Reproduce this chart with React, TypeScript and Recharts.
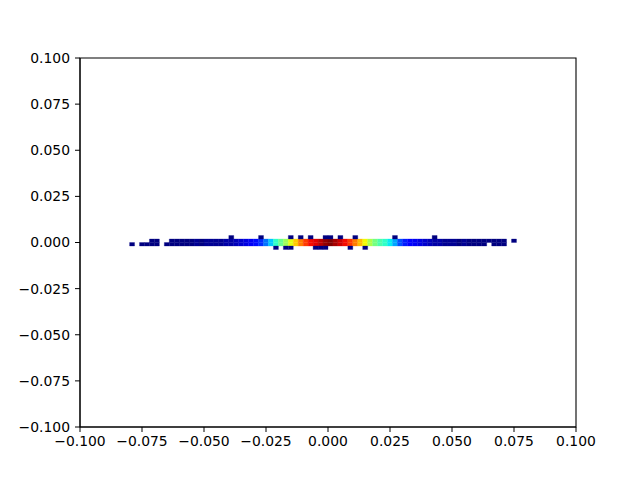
import React from 'react';
import { ComposedChart, XAxis, YAxis, ReferenceArea, Scatter } from 'recharts';

// 2D histogram bins: width in x, height in y (data units)
const BIN_W = 0.002;
const ROW_TOP: [number, number] = [0.0019, 0.0038];
const ROW_UP: [number, number] = [0, 0.0019];
const ROW_LOW: [number, number] = [-0.0019, 0];
const ROW_BOT: [number, number] = [-0.0038, -0.0019];

const COUNT_MIN = 1;
const COUNT_MAX = 60;

const xTicks = [-0.1, -0.075, -0.05, -0.025, 0, 0.025, 0.05, 0.075, 0.1];
const yTicks = [-0.1, -0.075, -0.05, -0.025, 0, 0.025, 0.05, 0.075, 0.1];

// main band: bin left edges
const mainBandX = [
  -0.064, -0.062, -0.06, -0.058, -0.056, -0.054, -0.052, -0.05, -0.048, -0.046,
  -0.044, -0.042, -0.04, -0.038, -0.036, -0.034, -0.032, -0.03, -0.028, -0.026,
  -0.024, -0.022, -0.02, -0.018, -0.016, -0.014, -0.012, -0.01, -0.008, -0.006,
  -0.004, -0.002, 0.0, 0.002, 0.004, 0.006, 0.008, 0.01, 0.012, 0.014,
  0.016, 0.018, 0.02, 0.022, 0.024, 0.026, 0.028, 0.03, 0.032, 0.034,
  0.036, 0.038, 0.04, 0.042, 0.044, 0.046, 0.048, 0.05, 0.052, 0.054,
  0.056, 0.058, 0.06, 0.062, 0.064, 0.066, 0.068, 0.07,
];
const mainUpperCounts = [
  1, 1, 1, 1, 1, 2, 1, 2, 2, 2,
  2, 3, 3, 4, 5, 6, 7, 9, 11, 15,
  20, 25, 29, 33, 38, 42, 47, 51, 54, 55,
  57, 59, 60, 58, 56, 54, 51, 47, 43, 39,
  34, 30, 27, 25, 22, 18, 13, 10, 8, 7,
  6, 5, 4, 3, 3, 2, 2, 2, 1, 2,
  1, 1, 1, 1, 1, 1, 1, 1,
];
const mainLowerCounts = [
  1, 1, 1, 1, 1, 2, 1, 2, 2, 2,
  2, 3, 3, 4, 5, 6, 7, 9, 11, 15,
  20, 25, 29, 33, 38, 42, 47, 51, 54, 55,
  57, 59, 60, 58, 56, 54, 51, 47, 43, 39,
  34, 30, 27, 25, 22, 18, 13, 10, 8, 7,
  6, 5, 4, 3, 3, 2, 2, 2, 1, 2,
  1, 1, 1, 1, 0, 1, 1, 1,
];

// sparse single-count bins (left edges)
const topRowX = [-0.04, -0.028, -0.016, -0.012, -0.008, -0.002, 0.0, 0.004, 0.01, 0.026, 0.042];
const bottomRowX = [-0.022, -0.018, -0.016, -0.006, -0.004, -0.002, 0.008, 0.014];
const upperExtraX = [-0.072, -0.07, 0.074];
const lowerExtraX = [-0.08, -0.076, -0.074, -0.072, -0.07, -0.066];

function interp(pts: number[][], v: number) {
  for (let i = 1; i < pts.length; i++) {
    if (v <= pts[i][0]) {
      const [x0, y0] = pts[i - 1];
      const [x1, y1] = pts[i];
      return y0 + ((v - x0) / (x1 - x0)) * (y1 - y0);
    }
  }
  return pts[pts.length - 1][1];
}
const JR = [[0, 0], [0.35, 0], [0.66, 1], [0.89, 1], [1, 0.5]];
const JG = [[0, 0], [0.125, 0], [0.375, 1], [0.64, 1], [0.91, 0], [1, 0]];
const JB = [[0, 0.5], [0.11, 1], [0.34, 1], [0.65, 0], [1, 0]];
function jet(count: number) {
  const v = Math.max(0, Math.min(1, (count - COUNT_MIN) / (COUNT_MAX - COUNT_MIN)));
  const r = Math.round(255 * interp(JR, v));
  const g = Math.round(255 * interp(JG, v));
  const b = Math.round(255 * interp(JB, v));
  return `rgb(${r},${g},${b})`;
}

type Cell = { x: number; row: [number, number]; c: number };
const cells: Cell[] = [];
mainBandX.forEach((x, i) => {
  if (mainUpperCounts[i] > 0) cells.push({ x, row: ROW_UP, c: mainUpperCounts[i] });
  if (mainLowerCounts[i] > 0) cells.push({ x, row: ROW_LOW, c: mainLowerCounts[i] });
});
topRowX.forEach((x) => cells.push({ x, row: ROW_TOP, c: 1 }));
bottomRowX.forEach((x) => cells.push({ x, row: ROW_BOT, c: 1 }));
upperExtraX.forEach((x) => cells.push({ x, row: ROW_UP, c: 1 }));
lowerExtraX.forEach((x) => cells.push({ x, row: ROW_LOW, c: 1 }));

const fmt = (v: number) => {
  const s = v.toFixed(3);
  return s.startsWith('-') ? '\u2212' + s.slice(1) : s;
};

const tickStyle = { fontFamily: 'DejaVu Sans', fontSize: 13.9, fill: '#000' };

export default function App() {
  return (
    <div style={{ position: 'absolute', left: 0, top: 0, background: '#fff' }}>
      <ComposedChart
        width={640}
        height={480}
        margin={{ top: 58, right: 64, bottom: 0, left: 0 }}
        data={[]}
      >
        <XAxis
          type="number"
          dataKey="x"
          domain={[-0.1, 0.1]}
          ticks={xTicks}
          tickFormatter={fmt}
          allowDataOverflow
          height={53}
          tickSize={5}
          tickMargin={4}
          stroke="#000"
          tick={tickStyle}
          interval={0}
        />
        <YAxis
          type="number"
          dataKey="y"
          domain={[-0.1, 0.1]}
          ticks={yTicks}
          tickFormatter={fmt}
          allowDataOverflow
          width={80}
          tickSize={5}
          tickMargin={5}
          stroke="#000"
          tick={tickStyle}
          interval={0}
        />
        {cells.map((cell, i) => {
          const col = jet(cell.c);
          return (
            <ReferenceArea
              key={i}
              x1={cell.x}
              x2={cell.x + BIN_W}
              y1={cell.row[0]}
              y2={cell.row[1]}
              fill={col}
              fillOpacity={1}
              stroke={col}
              strokeWidth={0.3}
            />
          );
        })}
        <ReferenceArea
          x1={-0.1}
          x2={0.1}
          y1={-0.1}
          y2={0.1}
          fill="none"
          stroke="#000"
          strokeWidth={1.1}
        />
        <Scatter data={[]} isAnimationActive={false} />
      </ComposedChart>
    </div>
  );
}
